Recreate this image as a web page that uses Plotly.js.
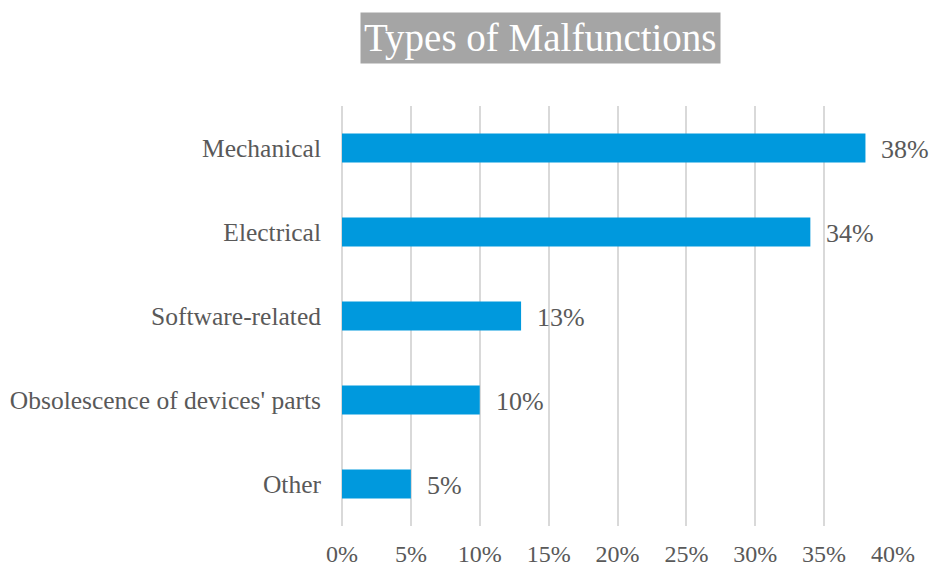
<!DOCTYPE html>
<html>
<head>
<meta charset="utf-8">
<script src="https://cdn.plot.ly/plotly-3.0.1.min.js"></script>
<style>html,body{margin:0;padding:0;background:#fff;}#chart{width:932px;height:588px;}</style>
</head>
<body>
<div id="chart"></div>
<script>
const categories = ["Mechanical", "Electrical", "Software-related", "Obsolescence of devices' parts", "Other"];
const values = [0.38, 0.34, 0.13, 0.10, 0.05];
const labels = ["38%", "34%", "13%", "10%", "5%"];
const tickVals = [0, 0.05, 0.10, 0.15, 0.20, 0.25, 0.30, 0.35, 0.40];
const tickText = ["0%", "5%", "10%", "15%", "20%", "25%", "30%", "35%", "40%"];
const chartTitle = "Types of Malfunctions";

const FONT = "Liberation Serif, Times New Roman, serif";
const GRAY = "#595959";

const trace = {
  type: "bar",
  orientation: "h",
  y: categories,
  x: values,
  marker: {color: "#0099dd"},
  width: 0.345,
  hoverinfo: "skip"
};

const annotations = values.map((v, i) => ({
  x: v, y: categories[i], xref: "x", yref: "y",
  text: labels[i], showarrow: false,
  xanchor: "left", yanchor: "middle", xshift: 14, yshift: -1,
  font: {family: FONT, size: 26, color: GRAY}
}));

annotations.push({
  x: 0.36, y: 1.163, xref: "paper", yref: "paper",
  text: chartTitle, showarrow: false,
  xanchor: "center", yanchor: "middle",
  bgcolor: "#a5a5a5", borderpad: 3,
  font: {family: FONT, size: 39, color: "#ffffff"}
});

const layout = {
  width: 932, height: 588,
  margin: {l: 342, r: 39, t: 106, b: 62},
  paper_bgcolor: "#ffffff", plot_bgcolor: "#ffffff",
  showlegend: false,
  font: {family: FONT, color: GRAY},
  xaxis: {
    range: [0, 0.4],
    tickvals: tickVals, ticktext: tickText,
    showgrid: true, gridcolor: "#d9d9d9", gridwidth: 2,
    zeroline: true, zerolinecolor: "#d9d9d9", zerolinewidth: 2,
    showline: false, ticks: "",
    ticklabelstandoff: 11,
    tickfont: {family: FONT, size: 24, color: GRAY},
    fixedrange: true
  },
  yaxis: {
    autorange: "reversed",
    showgrid: false, zeroline: false, showline: false, ticks: "",
    ticklabelstandoff: 20,
    tickfont: {family: FONT, size: 25.5, color: GRAY},
    fixedrange: true
  },
  annotations: annotations
};

Plotly.newPlot("chart", [trace], layout, {staticPlot: true, displayModeBar: false});
</script>
</body>
</html>
